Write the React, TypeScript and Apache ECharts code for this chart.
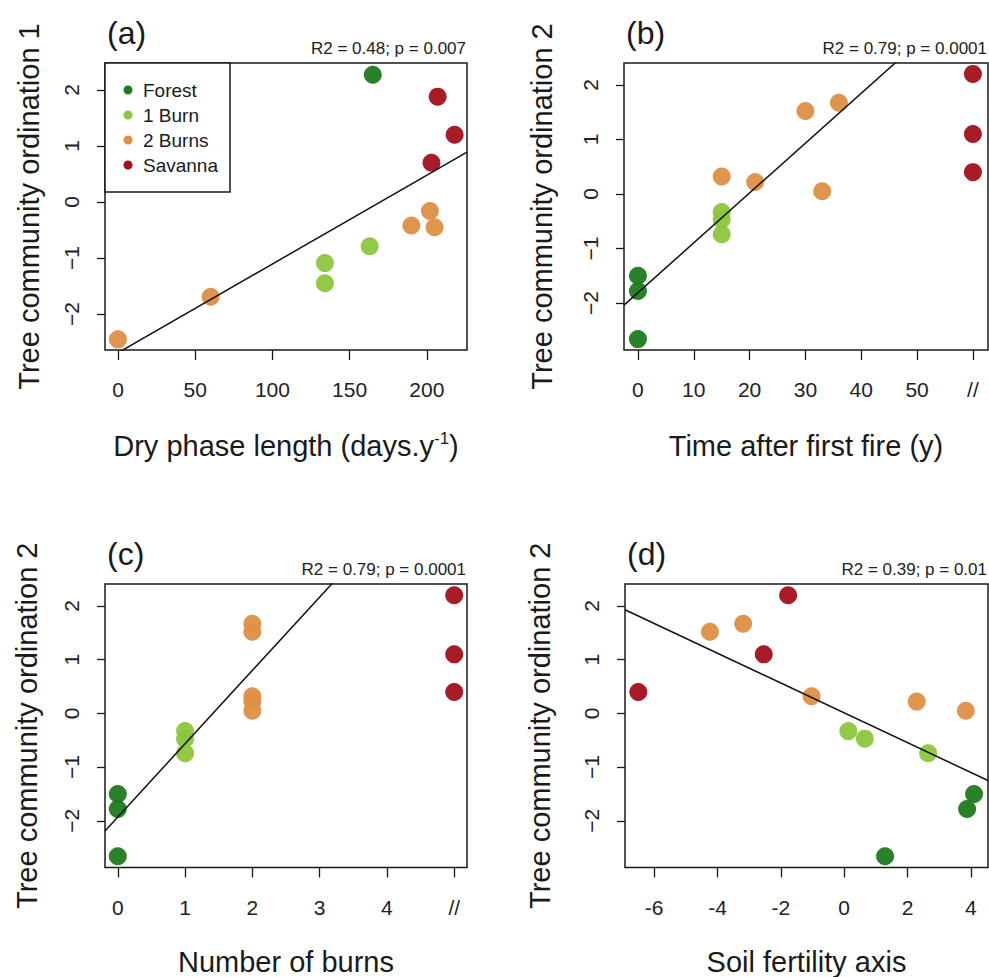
import React, { useEffect, useRef } from "react";
import * as echarts from "echarts";

const FONT = "Liberation Sans, Arial, Helvetica, sans-serif";

const groupNames = ["Forest", "1 Burn", "2 Burns", "Savanna"];
const groupColors = ["#1d7a1d", "#8cc63c", "#de8f45", "#a3101c"];

// Panel (a): dry phase length (days/y) vs ordination 1
const forestA = [[165, 2.27]];
const burn1A = [[134, -1.09], [134, -1.45], [163, -0.79]];
const burn2A = [[0, -2.45], [60, -1.69], [190, -0.42], [202, -0.16], [205, -0.45]];
const savannaA = [[203, 0.7], [207, 1.88], [218, 1.2]];

// Ordination 2 values (shared by panels b, c, d)
const forestOrd2 = [-1.5, -1.78, -2.66];
const burn1Ord2 = [-0.33, -0.47, -0.74];
const burn2Ord2 = [1.52, 1.67, 0.32, 0.22, 0.05];
const savannaOrd2 = [2.2, 1.1, 0.4];

// Panel (b): time after first fire (y); savanna plotted at the "//" position (60)
const forestTime = [0, 0, 0];
const burn1Time = [15, 15, 15];
const burn2Time = [30, 36, 15, 21, 33];
const savannaTime = [60, 60, 60];

// Panel (c): number of burns; savanna at the "//" position (5)
const forestBurns = [0, 0, 0];
const burn1Burns = [1, 1, 1];
const burn2Burns = [2, 2, 2, 2, 2];
const savannaBurns = [5, 5, 5];

// Panel (d): soil fertility axis
const forestSoil = [4.1, 3.88, 1.29];
const burn1Soil = [0.13, 0.65, 2.65];
const burn2Soil = [-4.24, -3.19, -1.03, 2.29, 3.84];
const savannaSoil = [-1.77, -2.54, -6.5];

// Regression fits [slope, intercept]
const fitA = [0.01584, -2.69];
const fitB = [0.0914, -1.81];
const fitC = [1.365, -1.93];
const fitD = [-0.2775, 0.01];

const statsText = ["R2 = 0.48; p = 0.007", "R2 = 0.79; p = 0.0001", "R2 = 0.79; p = 0.0001", "R2 = 0.39; p = 0.01"];
const panelTags = ["(a)", "(b)", "(c)", "(d)"];

const xTicksA = [0, 50, 100, 150, 200];
const xTicksB = [0, 10, 20, 30, 40, 50, 60];
const xTicksC = [0, 1, 2, 3, 4, 5];
const xTicksD = [-6, -4, -2, 0, 2, 4];
const yTicks = [-2, -1, 0, 1, 2];

const zip = (xs: number[], ys: number[]) => xs.map((x, i) => [x, ys[i]]);

export default function App() {
  const ref = useRef<HTMLDivElement>(null);
  useEffect(() => {
    if (!ref.current) return;
    const chart = echarts.init(ref.current, null, { renderer: "svg" });

    const panels = [
      {
        grid: { left: 105, top: 63, width: 362, height: 287 },
        xr: [-8.4, 226], yr: [-2.64, 2.48], xt: xTicksA, fit: fitA,
        groups: [forestA, burn1A, burn2A, savannaA],
        xname: "{n|Dry phase length (days.y}{s|-1}{n|)}",
        yname: "Tree community ordination 1", yGap: 62, xGap: 80,
        breakAt: null as number | null,
      },
      {
        grid: { left: 624, top: 63, width: 364, height: 287 },
        xr: [-2.5, 62.7], yr: [-2.86, 2.4], xt: xTicksB, fit: fitB,
        groups: [zip(forestTime, forestOrd2), zip(burn1Time, burn1Ord2), zip(burn2Time, burn2Ord2), zip(savannaTime, savannaOrd2)],
        xname: "{n|Time after first fire (y)}",
        yname: "Tree community ordination 2", yGap: 68, xGap: 80,
        breakAt: 60,
      },
      {
        grid: { left: 105, top: 584, width: 362, height: 286 },
        xr: [-0.19, 5.19], yr: [-2.87, 2.41], xt: xTicksC, fit: fitC,
        groups: [zip(forestBurns, forestOrd2), zip(burn1Burns, burn1Ord2), zip(burn2Burns, burn2Ord2), zip(savannaBurns, savannaOrd2)],
        xname: "{n|Number of burns}",
        yname: "Tree community ordination 2", yGap: 64, xGap: 78,
        breakAt: 5,
      },
      {
        grid: { left: 625, top: 584, width: 363, height: 286 },
        xr: [-6.92, 4.54], yr: [-2.87, 2.41], xt: xTicksD, fit: fitD,
        groups: [zip(forestSoil, forestOrd2), zip(burn1Soil, burn1Ord2), zip(burn2Soil, burn2Ord2), zip(savannaSoil, savannaOrd2)],
        xname: "{n|Soil fertility axis}",
        yname: "Tree community ordination 2", yGap: 71, xGap: 78,
        breakAt: null,
      },
    ];

    const grids: any[] = [];
    const xAxes: any[] = [];
    const yAxes: any[] = [];
    const series: any[] = [];
    const graphics: any[] = [];

    panels.forEach((p, i) => {
      grids.push({ ...p.grid, show: true, borderColor: "#1a1a1a", borderWidth: 1.5, backgroundColor: "transparent" });
      const breakAt = p.breakAt;
      xAxes.push({
        gridIndex: i, type: "value", min: p.xr[0], max: p.xr[1], position: "bottom",
        axisLine: { show: false, onZero: false },
        splitLine: { show: false },
        axisTick: { show: true, inside: false, length: 10, customValues: p.xt, lineStyle: { color: "#1a1a1a", width: 1.3 } },
        axisLabel: {
          customValues: p.xt, margin: 29, fontSize: 21, color: "#222", fontFamily: FONT,
          formatter: (v: number) => (breakAt !== null && v === breakAt ? "//" : String(v)),
        },
        name: p.xname, nameLocation: "middle", nameGap: p.xGap,
        nameTextStyle: {
          color: "#1a1a1a", fontFamily: FONT, fontSize: 29,
          rich: {
            n: { fontSize: 29, fontFamily: FONT, color: "#1a1a1a", lineHeight: 32 },
            s: { fontSize: 17, fontFamily: FONT, color: "#1a1a1a", verticalAlign: "top", lineHeight: 32, padding: [0, 0, 14, 0] },
          },
        },
      });
      yAxes.push({
        gridIndex: i, type: "value", min: p.yr[0], max: p.yr[1], position: "left",
        axisLine: { show: false, onZero: false },
        splitLine: { show: false },
        axisTick: { show: true, inside: false, length: 8, customValues: yTicks, lineStyle: { color: "#1a1a1a", width: 1.3 } },
        axisLabel: {
          customValues: yTicks, margin: 23, fontSize: 21, color: "#222", fontFamily: FONT, rotate: 90,
          formatter: (v: number) => (v < 0 ? "\u2212" + Math.abs(v) : String(v)),
        },
        name: p.yname, nameLocation: "middle", nameGap: p.yGap,
        nameTextStyle: { color: "#1a1a1a", fontFamily: FONT, fontSize: 29 },
      });
      p.groups.forEach((g, k) => {
        series.push({
          name: groupNames[k], type: "scatter", xAxisIndex: i, yAxisIndex: i,
          data: g, symbol: "circle", symbolSize: 18,
          itemStyle: { color: groupColors[k], opacity: 0.95 },
          z: 2,
        });
      });
      const [m, b] = p.fit;
      series.push({
        name: "fit" + i, type: "line", xAxisIndex: i, yAxisIndex: i,
        data: [[p.xr[0], m * p.xr[0] + b], [p.xr[1], m * p.xr[1] + b]],
        symbol: "none", clip: true, silent: true,
        lineStyle: { color: "#111", width: 1.5 }, z: 3,
      });
      const g = p.grid;
      const right = g.left + g.width;
      graphics.push({
        type: "text", x: g.left + 2, y: g.top - 30,
        style: { text: panelTags[i], fontSize: 32, fontFamily: FONT, fill: "#1a1a1a", verticalAlign: "middle", align: "left" },
      });
      graphics.push({
        type: "text", x: right - 1, y: g.top - 15,
        style: { text: statsText[i], fontSize: 17, fontFamily: FONT, fill: "#222", verticalAlign: "middle", align: "right" },
      });
    });

    // legend (panel a)
    const lx = 105, ly = 63;
    graphics.push({
      type: "rect", shape: { x: lx, y: ly, width: 125, height: 129 },
      style: { fill: "#fff", stroke: "#1a1a1a", lineWidth: 1.5 }, z: 10,
    });
    groupNames.forEach((nm, k) => {
      graphics.push({ type: "circle", shape: { cx: lx + 23, cy: ly + 27 + k * 25, r: 4.5 }, style: { fill: groupColors[k] }, z: 11 });
      graphics.push({
        type: "text", x: lx + 38, y: ly + 27 + k * 25, z: 11,
        style: { text: nm, fontSize: 19, fontFamily: FONT, fill: "#1a1a1a", verticalAlign: "middle", align: "left" },
      });
    });

    chart.setOption({
      animation: false,
      backgroundColor: "#fff",
      textStyle: { fontFamily: FONT },
      grid: grids,
      xAxis: xAxes,
      yAxis: yAxes,
      series,
      graphic: graphics,
    });
    return () => chart.dispose();
  }, []);
  return <div ref={ref} style={{ position: "fixed", left: 0, top: 0, width: 989, height: 977 }} />;
}
